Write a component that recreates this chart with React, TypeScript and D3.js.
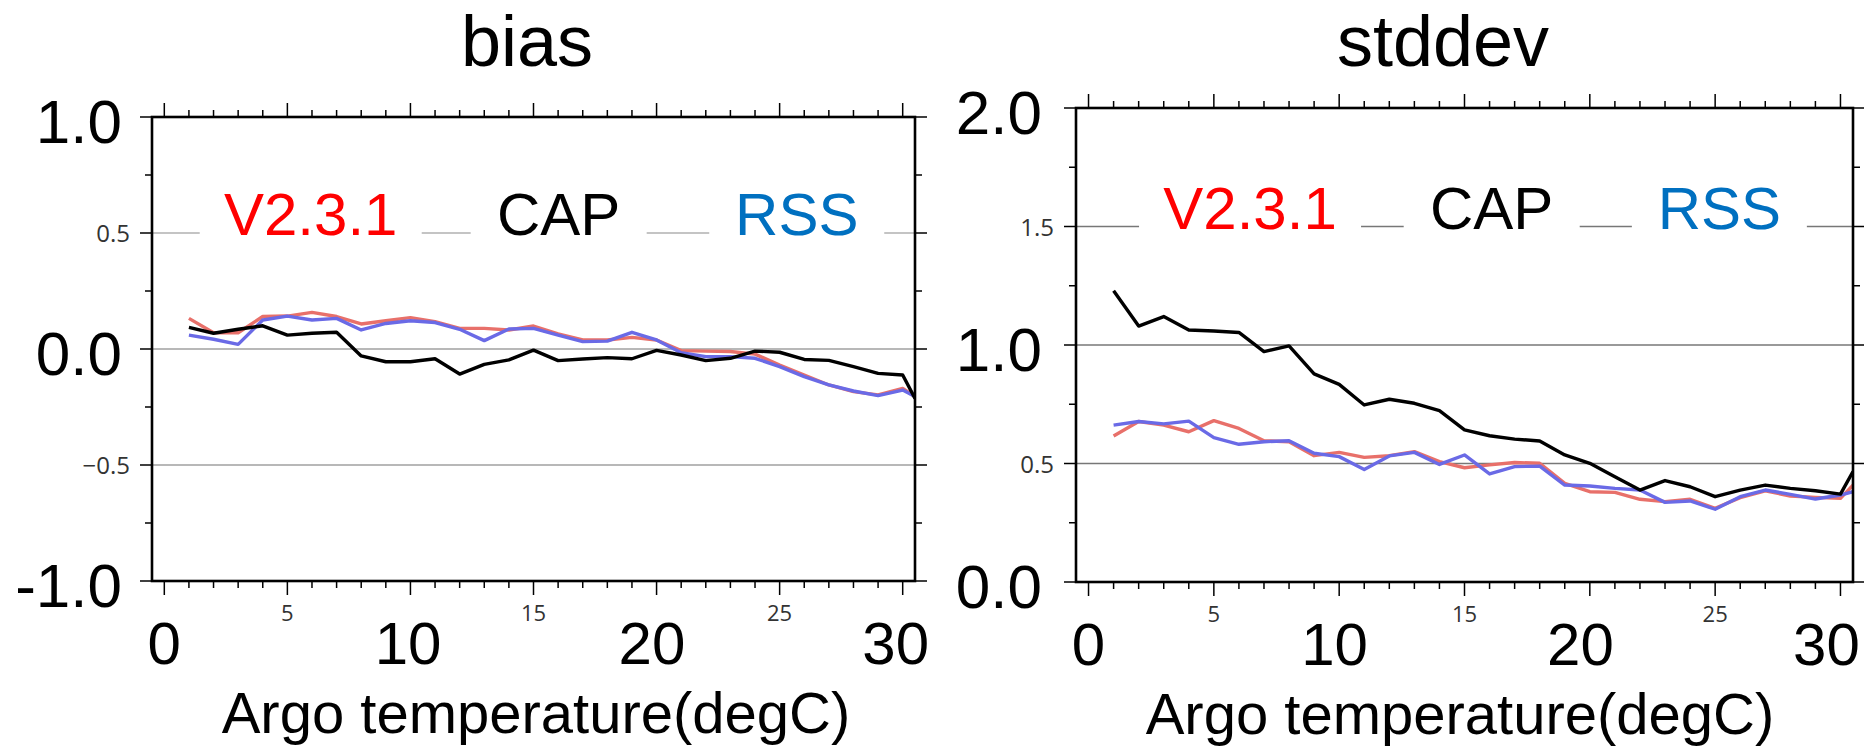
import React from "react";
import * as d3 from "d3";

// ---------- data ----------
const temps = [1, 2, 3, 4, 5, 6, 7, 8, 9, 10, 11, 12, 13, 14, 15, 16, 17, 18, 19, 20, 21, 22, 23, 24, 25, 26, 27, 28, 29, 30, 30.5];

const biasV231 = [0.132, 0.07, 0.07, 0.14, 0.142, 0.158, 0.14, 0.108, 0.122, 0.135, 0.118, 0.089, 0.089, 0.082, 0.099, 0.065, 0.039, 0.039, 0.05, 0.039, -0.007, -0.009, -0.011, -0.022, -0.069, -0.112, -0.155, -0.184, -0.198, -0.17, -0.205];
const biasCAP = [0.093, 0.068, 0.085, 0.1, 0.06, 0.068, 0.072, -0.03, -0.055, -0.055, -0.042, -0.108, -0.066, -0.047, -0.005, -0.05, -0.043, -0.037, -0.042, -0.006, -0.026, -0.05, -0.04, -0.009, -0.014, -0.045, -0.049, -0.076, -0.105, -0.112, -0.213];
const biasRSS = [0.06, 0.042, 0.02, 0.125, 0.142, 0.125, 0.132, 0.082, 0.11, 0.122, 0.114, 0.085, 0.036, 0.086, 0.089, 0.06, 0.032, 0.034, 0.072, 0.039, -0.016, -0.033, -0.033, -0.04, -0.076, -0.119, -0.155, -0.181, -0.201, -0.177, -0.205];

const sdV231 = [0.616, 0.677, 0.662, 0.634, 0.681, 0.648, 0.596, 0.592, 0.533, 0.547, 0.526, 0.533, 0.55, 0.508, 0.482, 0.494, 0.504, 0.501, 0.416, 0.381, 0.378, 0.349, 0.339, 0.349, 0.311, 0.356, 0.385, 0.363, 0.357, 0.353, 0.409];
const sdCAP = [1.229, 1.08, 1.12, 1.063, 1.059, 1.053, 0.972, 0.996, 0.878, 0.834, 0.747, 0.771, 0.754, 0.723, 0.642, 0.617, 0.603, 0.595, 0.536, 0.501, 0.444, 0.388, 0.428, 0.402, 0.36, 0.388, 0.409, 0.395, 0.385, 0.371, 0.466];
const sdRSS = [0.662, 0.677, 0.667, 0.679, 0.609, 0.581, 0.592, 0.596, 0.543, 0.529, 0.475, 0.532, 0.547, 0.496, 0.536, 0.456, 0.487, 0.489, 0.409, 0.405, 0.395, 0.388, 0.336, 0.342, 0.307, 0.36, 0.388, 0.37, 0.35, 0.367, 0.381];

const legendLabels = ["V2.3.1", "CAP", "RSS"];
const legendColors = ["#FF0000", "#000000", "#0070C0"];
const lineColors = ["#E8706A", "#6A6AE6", "#000000"]; // V2.3.1, RSS, CAP draw order

const bigXTicks = [0, 10, 20, 30];
const smallXTicks = [5, 15, 25];
const xDomain = [-0.5, 30.5];

const biasBigY = [1, 0, -1];
const biasBigYLabels = ["1.0", "0.0", "-1.0"];
const biasSmallY = [0.5, -0.5];
const biasSmallYLabels = ["0.5", "\u22120.5"];
const biasGrid = [0.5, 0, -0.5];

const sdBigY = [2, 1, 0];
const sdBigYLabels = ["2.0", "1.0", "0.0"];
const sdSmallY = [1.5, 0.5];
const sdSmallYLabels = ["1.5", "0.5"];
const sdGrid = [1.5, 1, 0.5];

const FONT = "'Liberation Sans', Arial, sans-serif";

type PanelProps = {
  title: string;
  left: number; right: number; top: number; bottom: number;
  yDomain: [number, number];
  bigY: number[]; bigYLabels: string[];
  smallY: number[]; smallYLabels: string[];
  grid: number[];
  gridStyle: (v: number) => { stroke: string; width: number };
  series: number[][];
  legendCenters: number[];
  legendValue: number;
  titleX: number; titleY: number;
  bigYOffset: number;
  xLabelShift: number;
  axisTitleX: number;
  clipId: string;
};

const legendTextWidths = [174, 128, 127];

function Panel(p: PanelProps) {
  const x = d3.scaleLinear().domain(xDomain).range([p.left, p.right]);
  const y = d3.scaleLinear().domain(p.yDomain).range([p.bottom, p.top]);
  const line = d3.line<number>().x((_, i) => x(temps[i])).y((d) => y(d));
  const xMinor = d3.range(0, 31, 1);
  const yMinor = d3.range(p.yDomain[0], p.yDomain[1] + 0.001, 0.25);
  const w = p.right - p.left;
  return (
    <g>
      <defs>
        <clipPath id={p.clipId}>
          <rect x={p.left} y={p.top} width={w} height={p.bottom - p.top} />
        </clipPath>
      </defs>
      <text x={p.titleX} y={p.titleY} fontFamily={FONT} fontSize={72} textAnchor="middle">{p.title}</text>
      {p.grid.map((g) => {
        const s = p.gridStyle(g);
        return <line key={"g" + g} x1={p.left} x2={p.right} y1={y(g)} y2={y(g)} stroke={s.stroke} strokeWidth={s.width} />;
      })}
      {legendLabels.map((lab, i) => {
        const cx = p.left + p.legendCenters[i] * w;
        const tw = legendTextWidths[i];
        return (
          <g key={lab}>
            <rect x={cx - tw / 2 - 24} y={y(p.legendValue) - 60} width={tw + 48} height={90} fill="#fff" />
            <text x={cx} y={y(p.legendValue) + 2} fontFamily={FONT} fontSize={60} textAnchor="middle" fill={legendColors[i]}>{lab}</text>
          </g>
        );
      })}
      <g clipPath={`url(#${p.clipId})`}>
        {p.series.map((s, i) => (
          <path key={"s" + i} d={line(s) || ""} fill="none" stroke={lineColors[i]} strokeWidth={3.4} strokeLinejoin="round" />
        ))}
      </g>
      <rect x={p.left} y={p.top} width={w} height={p.bottom - p.top} fill="none" stroke="#000" strokeWidth={2.6} />
      {xMinor.map((t) => {
        const len = t % 5 === 0 ? 14 : 7;
        return (
          <g key={"xt" + t} stroke="#000" strokeWidth={1.5}>
            <line x1={x(t)} x2={x(t)} y1={p.top} y2={p.top - len} />
            <line x1={x(t)} x2={x(t)} y1={p.bottom} y2={p.bottom + len} />
          </g>
        );
      })}
      {yMinor.map((v) => {
        const major = Math.abs(v * 2 - Math.round(v * 2)) < 1e-6;
        const len = major ? 12 : 7;
        return (
          <g key={"yt" + v} stroke="#000" strokeWidth={1.5}>
            <line x1={p.left} x2={p.left - len} y1={y(v)} y2={y(v)} />
            <line x1={p.right} x2={p.right + len} y1={y(v)} y2={y(v)} />
          </g>
        );
      })}
      {p.bigY.map((v, i) => (
        <text key={"by" + v} x={p.left - p.bigYOffset} y={y(v) + 26} fontFamily={FONT} fontSize={62} textAnchor="end">{p.bigYLabels[i]}</text>
      ))}
      {p.smallY.map((v, i) => (
        <text key={"sy" + v} x={p.left - 22} y={y(v) + 9} fontFamily="'Open Sans', sans-serif" fontSize={24} fill="#333" textAnchor="end">{p.smallYLabels[i]}</text>
      ))}
      {smallXTicks.map((t) => (
        <text key={"sx" + t} x={x(t)} y={p.bottom + 40} fontFamily="'Open Sans', sans-serif" fontSize={22} fill="#333" textAnchor="middle">{t}</text>
      ))}
      {bigXTicks.map((t) => (
        <text key={"bx" + t} x={x(t) - (t / 30) * p.xLabelShift} y={p.bottom + 83} fontFamily={FONT} fontSize={60} textAnchor="middle">{t}</text>
      ))}
      <text x={p.axisTitleX} y={p.bottom + 152} fontFamily={FONT} fontSize={58} textAnchor="middle">Argo temperature(degC)</text>
    </g>
  );
}

export default function App() {
  return (
    <svg width={1864} height={749} style={{ position: "absolute", left: 0, top: 0, background: "#fff" }}>
      <rect x={0} y={0} width={1864} height={749} fill="#fff" />
      <Panel
        title="bias"
        left={152} right={915} top={117} bottom={581}
        yDomain={[-1, 1]}
        bigY={biasBigY} bigYLabels={biasBigYLabels}
        smallY={biasSmallY} smallYLabels={biasSmallYLabels}
        grid={biasGrid}
        gridStyle={(v) => (v === 0.5 ? { stroke: "#8a8a8a", width: 1.2 } : { stroke: "#b8b8b8", width: 2.2 })}
        series={[biasV231, biasRSS, biasCAP]}
        legendCenters={[0.208, 0.533, 0.845]}
        legendValue={0.5}
        titleX={527} titleY={66}
        bigYOffset={30}
        xLabelShift={7}
        axisTitleX={536}
        clipId="clipBias"
      />
      <Panel
        title="stddev"
        left={1076} right={1853} top={108} bottom={582}
        yDomain={[0, 2]}
        bigY={sdBigY} bigYLabels={sdBigYLabels}
        smallY={sdSmallY} smallYLabels={sdSmallYLabels}
        grid={sdGrid}
        gridStyle={() => ({ stroke: "#777", width: 1.3 })}
        series={[sdV231, sdRSS, sdCAP]}
        legendCenters={[0.224, 0.535, 0.828]}
        legendValue={1.5}
        titleX={1443} titleY={66}
        bigYOffset={34}
        xLabelShift={14}
        axisTitleX={1460}
        clipId="clipSd"
      />
    </svg>
  );
}
